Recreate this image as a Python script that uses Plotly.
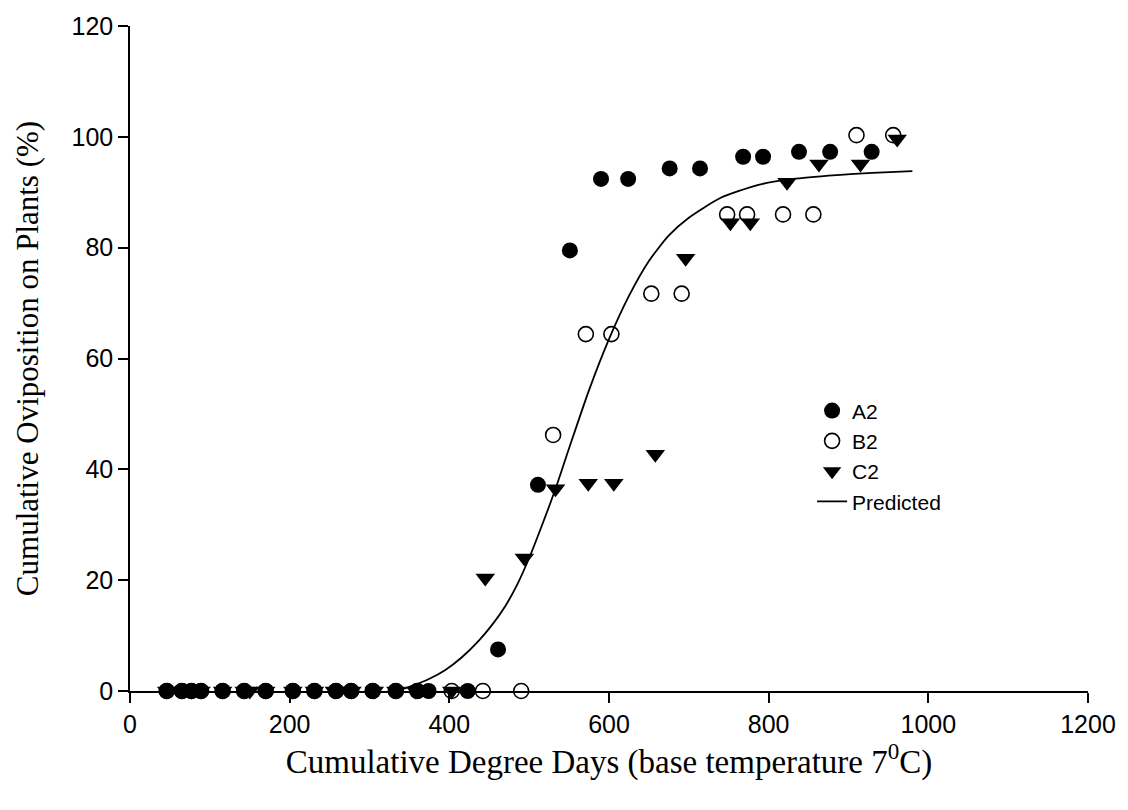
import plotly.graph_objects as go

# ---- data ----
a2_x = [46, 65, 77, 89, 116, 143, 170, 204, 231, 258, 277, 304, 333, 360, 374, 423,
        461, 511, 551, 590, 624, 676, 714, 768, 793, 838, 877, 929]
a2_y = [0, 0, 0, 0, 0, 0, 0, 0, 0, 0, 0, 0, 0, 0, 0, 0,
        7.5, 37.2, 79.5, 92.4, 92.4, 94.3, 94.3, 96.4, 96.4, 97.3, 97.3, 97.3]

b2_x = [46, 65, 77, 89, 116, 143, 170, 204, 231, 258, 277, 304, 333, 360, 403, 442, 490,
        530, 571, 603, 653, 691, 748, 773, 818, 856, 910, 956]
b2_y = [0, 0, 0, 0, 0, 0, 0, 0, 0, 0, 0, 0, 0, 0, 0, 0, 0,
        46.2, 64.4, 64.4, 71.7, 71.7, 86.0, 86.0, 86.0, 86.0, 100.3, 100.3]

c2_x = [46, 65, 77, 89, 116, 143, 150, 170, 204, 231, 256, 278, 306, 333, 358, 403,
        445, 494, 533, 574, 606, 658, 696, 752, 777, 823, 863, 915, 961]
c2_y = [0, 0, 0, 0, 0, 0, 0, 0, 0, 0, 0, 0, 0, 0, 0, 0,
        20.4, 24.0, 36.5, 37.5, 37.5, 42.7, 78.1, 84.5, 84.5, 91.8, 95.1, 95.1, 99.6]

pred_x = [335, 355, 375, 395, 415, 437, 455, 470, 485, 500, 515, 533, 550, 575, 600,
          625, 650, 675, 700, 740, 786, 830, 885, 930, 980]
pred_y = [0, 1.0, 2.2, 3.8, 6.0, 9.1, 12.2, 15.3, 19.2, 24.0, 29.5, 36.5, 43.8, 54.3,
          63.5, 71.3, 77.6, 82.2, 85.4, 89.0, 91.3, 92.4, 93.1, 93.5, 93.8]

x_ticks = [0, 200, 400, 600, 800, 1000, 1200]
y_ticks = [0, 20, 40, 60, 80, 100, 120]

fig = go.Figure()
fig.add_trace(go.Scatter(x=a2_x, y=a2_y, mode="markers", name="A2", cliponaxis=False,
                         marker=dict(symbol="circle", size=16, color="black",
                                     line=dict(color="black", width=0))))
fig.add_trace(go.Scatter(x=b2_x, y=b2_y, mode="markers", name="B2", cliponaxis=False,
                         marker=dict(symbol="circle-open", size=15, color="black",
                                     line=dict(color="black", width=1.6))))
fig.add_trace(go.Scatter(x=c2_x, y=c2_y, mode="markers", name="C2", cliponaxis=False,
                         marker=dict(symbol="triangle-down", size=17, color="black",
                                     line=dict(color="black", width=0))))
fig.add_trace(go.Scatter(x=pred_x, y=pred_y, mode="lines", name="Predicted",
                         line=dict(color="black", width=1.8, shape="spline", smoothing=0.6)))

axis_common = dict(showgrid=False, zeroline=False, showline=True, linecolor="black",
                   linewidth=1.5, ticks="outside", ticklen=10, tickwidth=1.5,
                   tickcolor="black",
                   tickfont=dict(family="Liberation Sans, Arial", size=25, color="black"))

fig.update_layout(
    width=1128, height=810,
    margin=dict(l=130, r=36, t=21, b=119),
    plot_bgcolor="white", paper_bgcolor="white",
    xaxis=dict(range=[0, 1200], tickvals=x_ticks, **axis_common,
               title=dict(text="Cumulative Degree Days (base temperature 7<sup>0</sup>C)",
                          font=dict(family="Liberation Serif, Times New Roman", size=33,
                                    color="black"), standoff=12)),
    yaxis=dict(range=[0, 120], tickvals=y_ticks, **axis_common,
               title=dict(text="Cumulative Oviposition on Plants (%)",
                          font=dict(family="Liberation Serif, Times New Roman", size=31,
                                    color="black"), standoff=24)),
    legend=dict(x=0.712, y=0.452, xanchor="left", yanchor="top",
                bgcolor="rgba(0,0,0,0)", borderwidth=0,
                font=dict(family="Liberation Sans, Arial", size=21, color="black")),
    showlegend=True,
)

fig.write_html("out.html")
